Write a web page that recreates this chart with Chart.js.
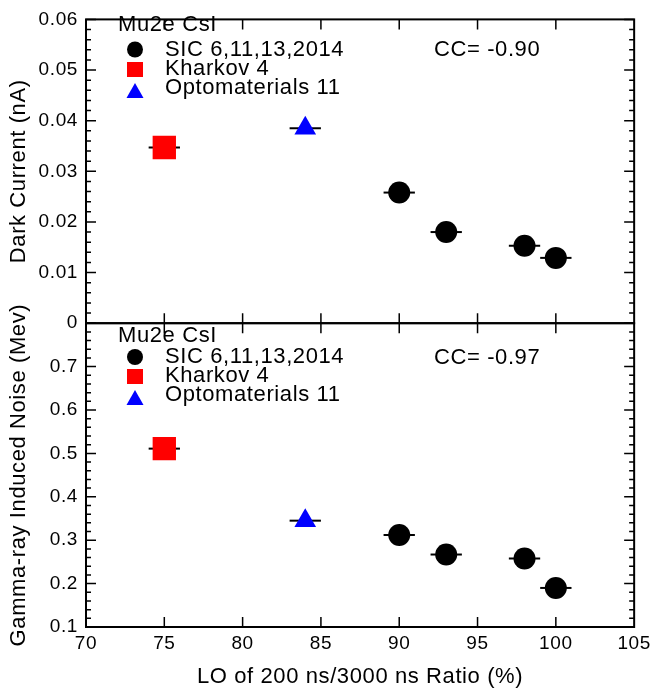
<!DOCTYPE html>
<html>
<head>
<meta charset="utf-8">
<title>Mu2e CsI: dark current and gamma-ray induced noise vs LO ratio</title>
<script src="https://cdn.jsdelivr.net/npm/chart.js@4/dist/chart.umd.min.js"></script>
<style>
  html, body { margin: 0; padding: 0; background: #ffffff; }
  #wrap { position: relative; width: 655px; height: 690px; }
  canvas { display: block; }
</style>
</head>
<body>
<div id="wrap"><canvas id="c" width="655" height="690"></canvas></div>
<script>
// ---- axis ticks ----
const xTickValues = [70, 75, 80, 85, 90, 95, 100, 105];
const darkTickValues = [0, 0.01, 0.02, 0.03, 0.04, 0.05, 0.06];
const darkTickLabels = ['0', '0.01', '0.02', '0.03', '0.04', '0.05', '0.06'];
const noiseTickValues = [0.1, 0.2, 0.3, 0.4, 0.5, 0.6, 0.7, 0.8];
const noiseTickLabels = ['0.1', '0.2', '0.3', '0.4', '0.5', '0.6', '0.7', ''];

// ---- measurements: LO(200 ns)/LO(3000 ns) in %, dark current in nA, noise in MeV ----
const sicRatio = [90, 93, 98, 100];
const sicDark = [0.0258, 0.0180, 0.0153, 0.0129];
const sicNoise = [0.312, 0.267, 0.258, 0.190];

const kharkovRatio = [75];
const kharkovDark = [0.0347];
const kharkovNoise = [0.511];

const optoRatio = [84];
const optoDark = [0.0385];
const optoNoise = [0.345];

const ratioError = 1.0; // +/- on the LO ratio (%)

// ---- labels ----
const legendTitle = 'Mu2e CsI';
const seriesNames = ['SIC 6,11,13,2014', 'Kharkov 4', 'Optomaterials 11'];
const correlations = ['CC= -0.90', 'CC= -0.97'];

const FONT = "'Liberation Sans', Arial, Helvetica, sans-serif";
const BLACK = '#000000';
const RED = '#ff0000';
const BLUE = '#0000ff';

function points(xs, ys) {
  return xs.map((x, i) => ({ x: x, y: ys[i] }));
}

function series(name, xs, ys, axis, style, radius, color) {
  return {
    label: name,
    data: points(xs, ys),
    xAxisID: 'x',
    yAxisID: axis,
    pointStyle: style,
    pointRadius: radius,
    pointHoverRadius: radius,
    backgroundColor: color,
    borderColor: color,
    borderWidth: 0,
    xError: ratioError
  };
}

// Frame, inward tick marks, horizontal error bars and the in-panel legends
const panelDecorations = {
  id: 'panelDecorations',
  beforeDraw(chart) {
    chart.ctx.letterSpacing = '0.6px';
  },
  beforeDatasetsDraw(chart) {
    const ctx = chart.ctx;
    const xs = chart.scales.x;
    ctx.save();
    ctx.strokeStyle = BLACK;
    ctx.lineWidth = 2;
    chart.data.datasets.forEach(ds => {
      const ys = chart.scales[ds.yAxisID];
      ds.data.forEach(p => {
        const y = ys.getPixelForValue(p.y);
        ctx.beginPath();
        ctx.moveTo(xs.getPixelForValue(p.x - ds.xError), y);
        ctx.lineTo(xs.getPixelForValue(p.x + ds.xError), y);
        ctx.stroke();
      });
    });
    ctx.restore();
  },
  afterDatasetsDraw(chart) {
    const ctx = chart.ctx;
    const xs = chart.scales.x;
    const left = chart.chartArea.left;
    const right = chart.chartArea.right;
    const panels = [
      { scale: chart.scales.y, values: darkTickValues },
      { scale: chart.scales.y2, values: noiseTickValues }
    ];
    ctx.save();
    ctx.strokeStyle = BLACK;
    panels.forEach(panel => {
      const ys = panel.scale;
      const top = ys.top;
      const bottom = ys.bottom;
      // x ticks on top and bottom edges of the panel
      ctx.lineWidth = 1.5;
      xTickValues.slice(1, -1).forEach(v => {
        const px = xs.getPixelForValue(v);
        ctx.beginPath();
        ctx.moveTo(px, top); ctx.lineTo(px, top + 10);
        ctx.moveTo(px, bottom); ctx.lineTo(px, bottom - 10);
        ctx.stroke();
      });
      // y major + minor ticks on both sides
      const vals = panel.values;
      vals.forEach((v, i) => {
        const py = ys.getPixelForValue(v);
        ctx.beginPath();
        ctx.moveTo(left, py); ctx.lineTo(left + 10, py);
        ctx.moveTo(right, py); ctx.lineTo(right - 10, py);
        ctx.stroke();
        if (i < vals.length - 1) {
          const step = (vals[i + 1] - v) / 5;
          for (let k = 1; k < 5; k++) {
            const my = ys.getPixelForValue(v + k * step);
            ctx.beginPath();
            ctx.moveTo(left, my); ctx.lineTo(left + 5, my);
            ctx.moveTo(right, my); ctx.lineTo(right - 5, my);
            ctx.stroke();
          }
        }
      });
      // panel frame
      ctx.lineWidth = 2;
      ctx.strokeRect(left, top, right - left, bottom - top);
    });
    ctx.restore();
  },
  afterDraw(chart) {
    const ctx = chart.ctx;
    const legends = [
      { title: 25, rows: [49.5, 69, 88], cc: correlations[0], ccY: 49.5 },
      { title: 335.5, rows: [357, 376, 395], cc: correlations[1], ccY: 358 }
    ];
    ctx.save();
    ctx.font = '22px ' + FONT;
    ctx.textBaseline = 'middle';
    ctx.textAlign = 'left';
    legends.forEach(lg => {
      ctx.fillStyle = BLACK;
      ctx.fillText(legendTitle, 118, lg.title);
      seriesNames.forEach((name, i) => {
        ctx.fillText(name, 165, lg.rows[i]);
      });
      ctx.fillText(lg.cc, 434, lg.ccY);

      const sx = 135;
      // circle
      ctx.beginPath();
      ctx.arc(sx, lg.rows[0], 8, 0, Math.PI * 2);
      ctx.fill();
      // square
      ctx.fillStyle = RED;
      ctx.fillRect(sx - 8, lg.rows[1] - 7, 16, 15);
      // triangle
      const ty = lg.rows[2] + 3;
      ctx.fillStyle = BLUE;
      ctx.beginPath();
      ctx.moveTo(sx, ty - 8);
      ctx.lineTo(sx + 8.5, ty + 7);
      ctx.lineTo(sx - 8.5, ty + 7);
      ctx.closePath();
      ctx.fill();
    });
    ctx.restore();
    ctx.letterSpacing = '0px';
  }
};

function yAxis(min, max, values, labels, title) {
  return {
    type: 'linear',
    position: 'left',
    stack: 'panels',
    stackWeight: 1,
    min: min,
    max: max,
    afterBuildTicks: s => { s.ticks = values.map(v => ({ value: v })); },
    afterFit: s => { s.width = 86; },
    grid: { display: false, drawTicks: false },
    border: { display: false },
    ticks: {
      autoSkip: false,
      padding: 8,
      color: BLACK,
      font: { family: FONT, size: 19 },
      callback: (v, i) => labels[i]
    },
    title: {
      display: true,
      text: title,
      color: BLACK,
      font: { family: FONT, size: 22 },
      padding: { top: 6, bottom: 0 }
    }
  };
}

new Chart(document.getElementById('c'), {
  type: 'scatter',
  data: {
    datasets: [
      series(seriesNames[0], sicRatio, sicDark, 'y', 'circle', 11, BLACK),
      series(seriesNames[1], kharkovRatio, kharkovDark, 'y', 'rect', 16.5, RED),
      series(seriesNames[2], optoRatio, optoDark, 'y', 'triangle', 12.5, BLUE),
      series(seriesNames[0], sicRatio, sicNoise, 'y2', 'circle', 11, BLACK),
      series(seriesNames[1], kharkovRatio, kharkovNoise, 'y2', 'rect', 16.5, RED),
      series(seriesNames[2], optoRatio, optoNoise, 'y2', 'triangle', 12.5, BLUE)
    ]
  },
  options: {
    responsive: false,
    animation: false,
    devicePixelRatio: 1,
    layout: { padding: { top: 15, right: 16, left: 0, bottom: 0 } },
    plugins: {
      legend: { display: false },
      tooltip: { enabled: false }
    },
    scales: {
      x: {
        type: 'linear',
        position: 'bottom',
        min: 70,
        max: 105,
        afterBuildTicks: s => { s.ticks = xTickValues.map(v => ({ value: v })); },
        afterFit: s => { s.height = 63; },
        grid: { display: false, drawTicks: false },
        border: { display: false },
        ticks: {
          autoSkip: false,
          maxRotation: 0,
          padding: 5,
          color: BLACK,
          font: { family: FONT, size: 19 },
          callback: v => String(v)
        },
        title: {
          display: true,
          text: 'LO of 200 ns/3000 ns Ratio (%)',
          color: BLACK,
          font: { family: FONT, size: 22 },
          padding: { top: 0, bottom: 0 }
        }
      },
      // left-side stacked axes are placed top-down in reverse order of definition,
      // so the lower (noise) panel is listed first
      y2: yAxis(0.1, 0.8, noiseTickValues, noiseTickLabels, 'Gamma-ray Induced Noise (Mev)'),
      y: yAxis(0, 0.06, darkTickValues, darkTickLabels, 'Dark Current (nA)')
    }
  },
  plugins: [panelDecorations]
});
</script>
</body>
</html>
